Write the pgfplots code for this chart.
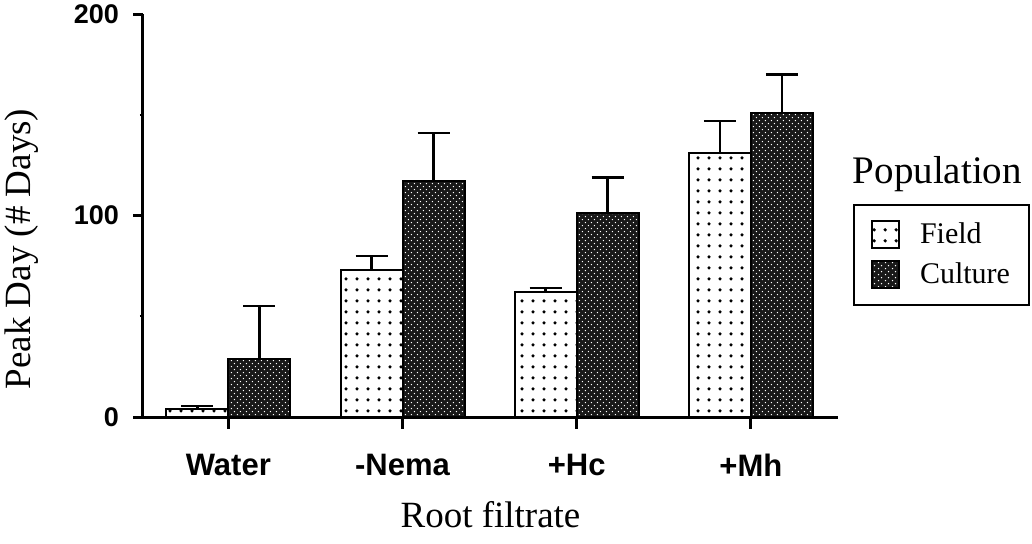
\documentclass[border=0pt]{standalone}
\usepackage{fontspec}
\setmainfont{Liberation Serif}
\newfontfamily\sansfont{Liberation Sans}
\usepackage{pgfplots}
\usepackage{pgfplotstable}
\pgfplotsset{compat=1.18}
\usetikzlibrary{patterns}

% sparse dot screen for the field population
\pgfdeclarepatternformonly{fielddots}{\pgfqpoint{0pt}{0pt}}{\pgfqpoint{5.5pt}{5.3pt}}{\pgfqpoint{5.5pt}{5.3pt}}{%
  \pgfpathcircle{\pgfqpoint{2.75pt}{2.65pt}}{0.95pt}\pgfusepath{fill}}
% fine stipple (light dots on dark) for the culture population
\pgfdeclarepatternformonly{culturedots}{\pgfqpoint{0pt}{0pt}}{\pgfqpoint{3.2pt}{3.2pt}}{\pgfqpoint{3.2pt}{3.2pt}}{%
  \pgfpathcircle{\pgfqpoint{0.8pt}{0.8pt}}{0.4pt}%
  \pgfpathcircle{\pgfqpoint{2.4pt}{2.4pt}}{0.4pt}\pgfusepath{fill}}

\pgfplotstableread{
x  f    fe   c    ce
0  4    1.5  29   26
1  73   7    117  24
2  62   2    101  18
3  131  16   151  19
}\peakdata

\newcommand\labfont{\fontsize{18.5}{22}\selectfont}
\newcommand\legfont{\fontsize{15}{18}\selectfont}

\begin{document}
\begin{tikzpicture}
\begin{axis}[
  scale only axis, width=347.5pt, height=201.5pt,
  xmin=-0.49, xmax=3.5, ymin=0, ymax=200,
  clip=false,
  axis x line*=bottom, axis y line*=left,
  axis line style={line width=1.5pt, -},
  ybar=0pt, bar width=31pt,
  xtick={0,1,2,3}, xticklabels={Water,-Nema,+Hc,+Mh},
  ytick={0,100,200}, minor ytick={50,150},
  tick align=outside,
  major tick length=0pt, minor tick length=1.5pt,
  minor tick style={line width=1.2pt, black},
  /pgf/number format/assume math mode=true,
  xticklabel style={font=\sansfont\bfseries\fontsize{15.5}{18}\selectfont, yshift=-15pt},
  yticklabel style={font=\sansfont\bfseries\fontsize{13.5}{16}\selectfont, xshift=-8.5pt},
  xlabel={Root filtrate},
  ylabel={Peak Day (\# Days)},
  xlabel style={font=\labfont, at={(axis description cs:0.5,-0.243)}, anchor=center},
  ylabel style={font=\labfont, at={(axis description cs:-0.174,0.417)}, anchor=center},
  legend style={at={(axis description cs:1.0216,0.5285)}, anchor=north west,
    draw=black, line width=1pt, font=\legfont, cells={anchor=west},
    inner xsep=7.5pt, inner ysep=7pt, row sep=4pt},
  legend image code/.code={\path (-1pt,0pt); \draw[#1, line width=1pt] (0pt,-6.75pt) rectangle (13.5pt,6.75pt);},
  error bars/y dir=plus, error bars/y explicit,
  error bars/error bar style={line width=1.3pt, black},
  error bars/error mark options={rotate=90, mark size=8pt, line width=1.3pt, black},
]
\addplot[draw=black, line width=1pt, fill=white, postaction={pattern=fielddots, pattern color=black}]
  table[x=x, y=f, y error=fe] {\peakdata};
\addlegendentry{\hspace{8pt}Field}
\addplot[draw=black, line width=1pt, fill=black!90, postaction={pattern=culturedots, pattern color=white}]
  table[x=x, y=c, y error=ce] {\peakdata};
\addlegendentry{\hspace{8pt}Culture}
% heavy outward tick marks
\draw[line width=1.5pt] (axis cs:0,0) -- ++(0pt,-6pt);
\draw[line width=1.5pt] (axis cs:1,0) -- ++(0pt,-6pt);
\draw[line width=1.5pt] (axis cs:2,0) -- ++(0pt,-6pt);
\draw[line width=1.5pt] (axis cs:3,0) -- ++(0pt,-6pt);
\draw[line width=1.5pt] (axis cs:-0.49,0) -- ++(-5pt,0pt);
\draw[line width=1.5pt] (axis cs:-0.49,100) -- ++(-5pt,0pt);
\draw[line width=1.5pt] (axis cs:-0.49,200) -- ++(-5pt,0pt);
\node[font=\fontsize{19.5}{22}\selectfont, anchor=base] at (axis description cs:1.143,0.58) {Population};
\end{axis}
\pgfresetboundingbox
\path[use as bounding box] (-71.5pt,-63pt) rectangle (444.5pt,208.5pt);
\end{tikzpicture}
\end{document}
